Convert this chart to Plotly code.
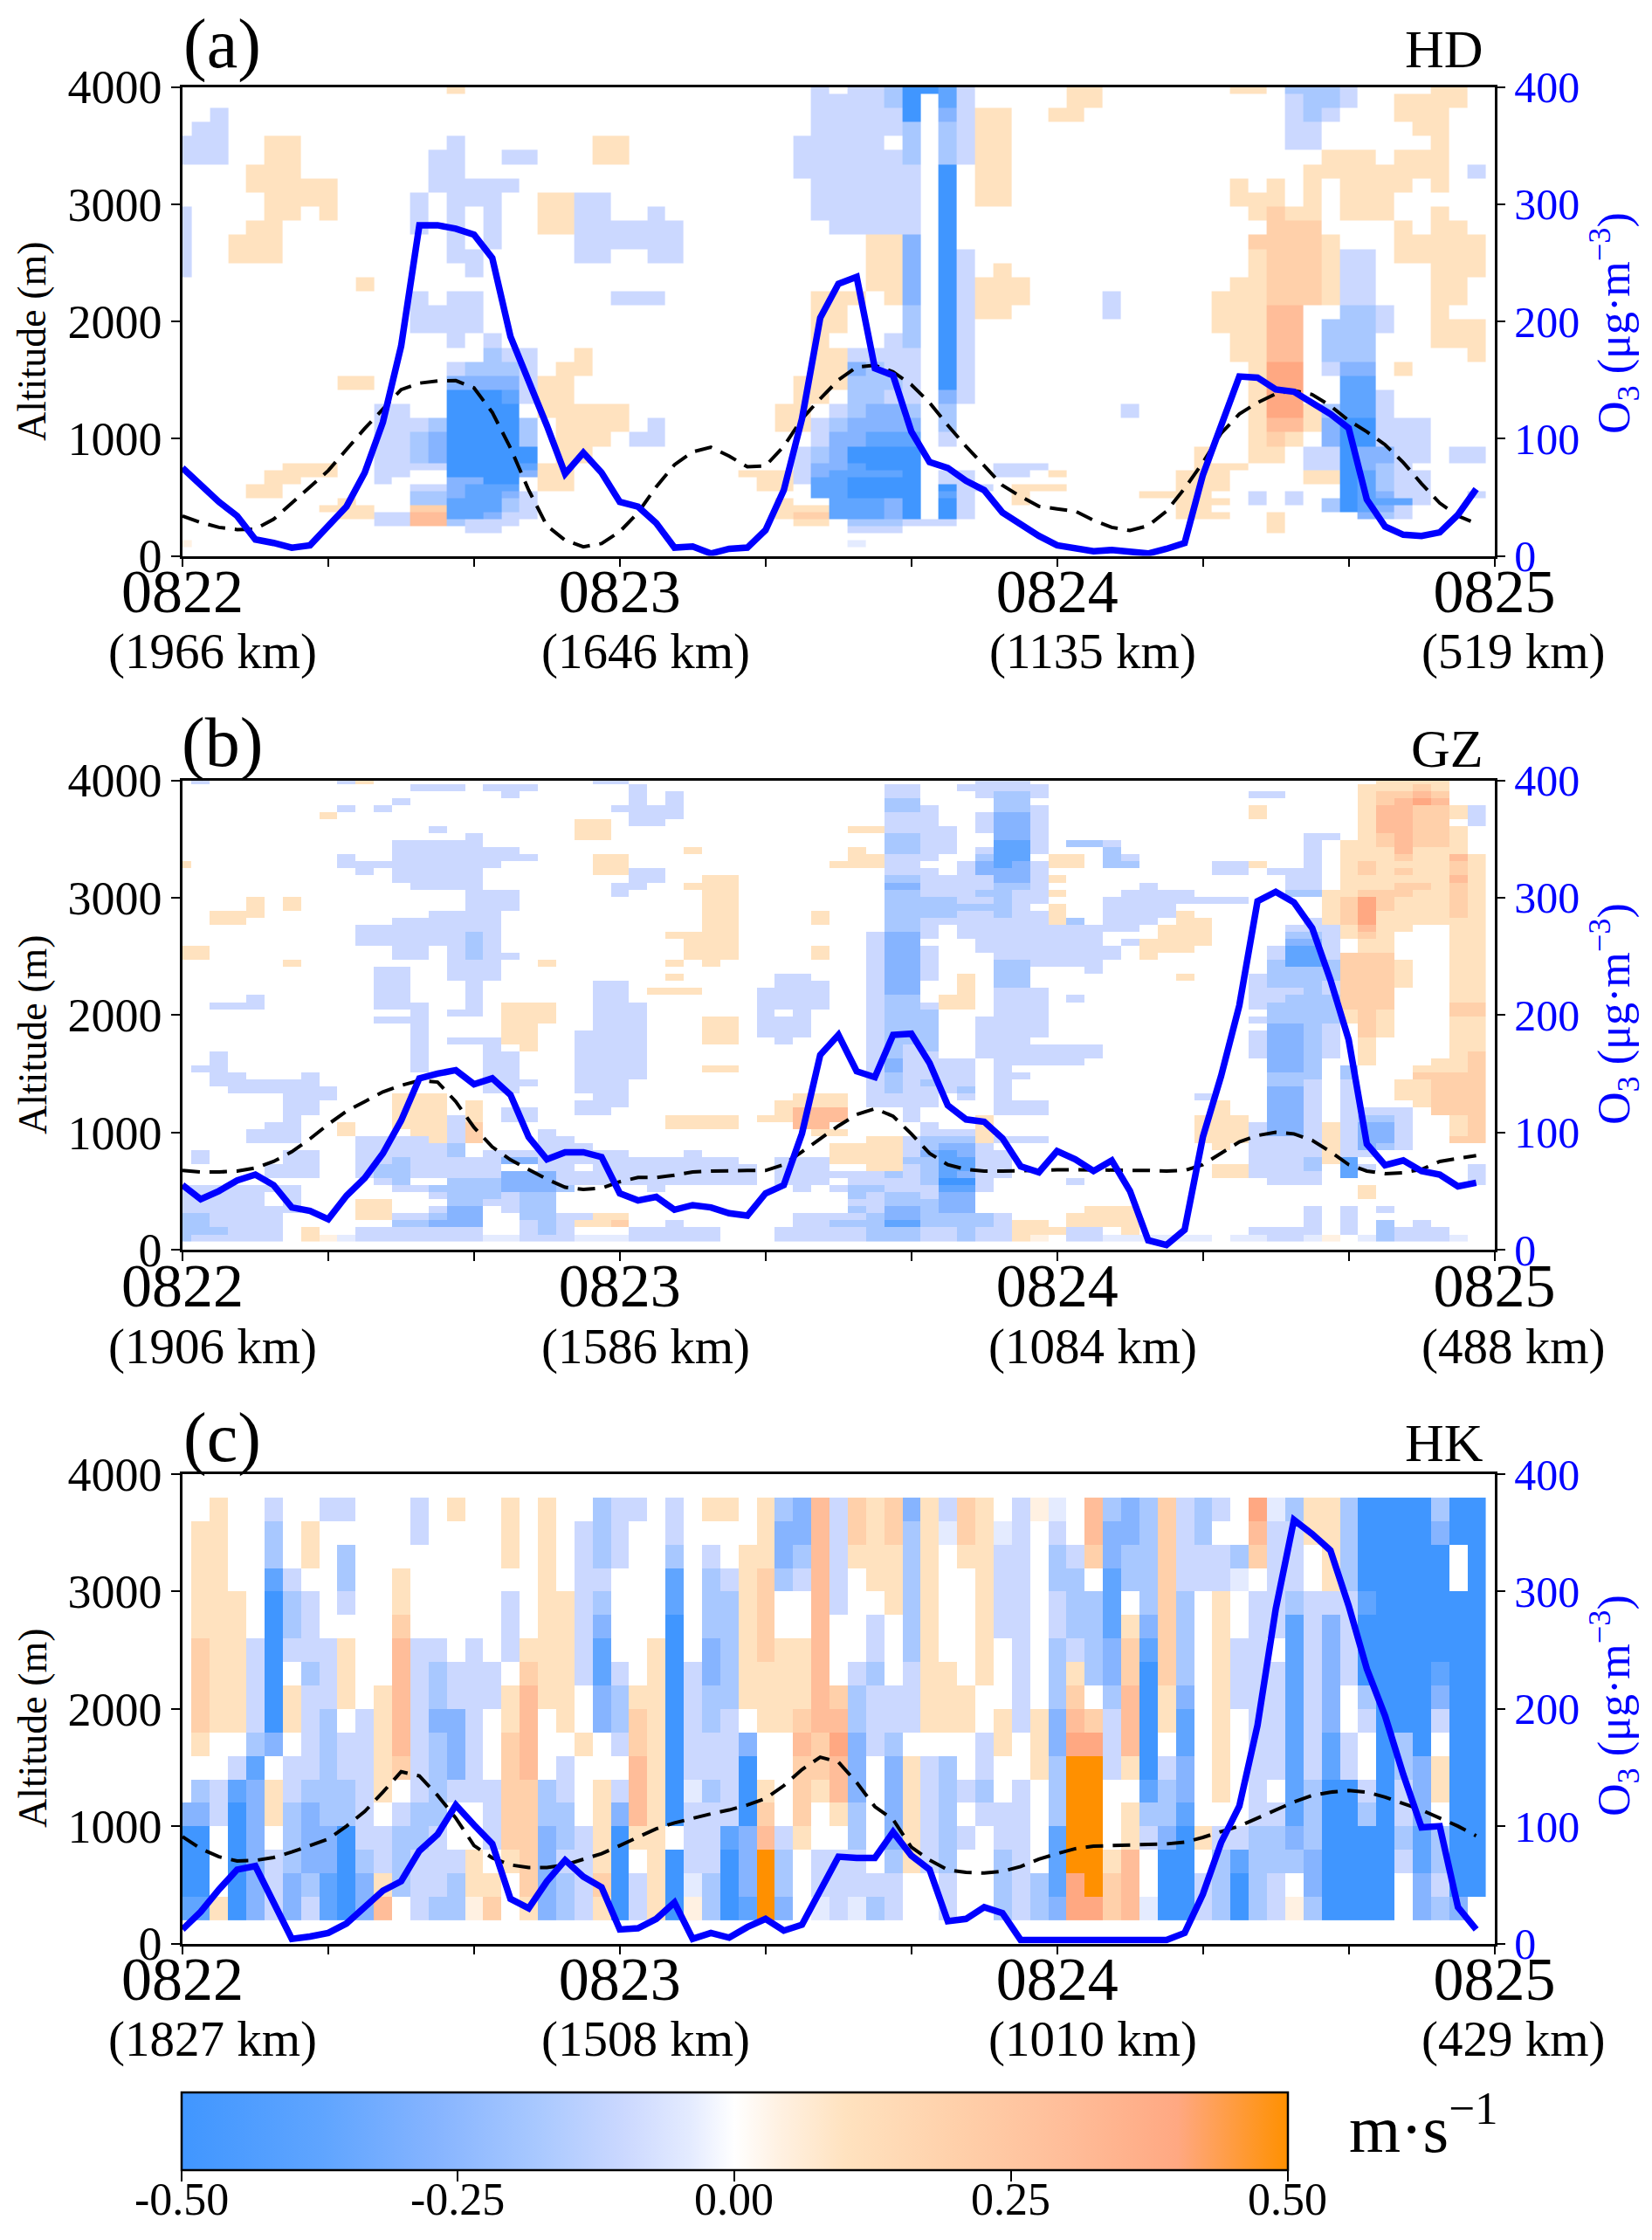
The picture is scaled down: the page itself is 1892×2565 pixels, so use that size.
import re
import plotly.graph_objects as go

FONT = "Liberation Serif"
W, H = 1892, 2565

hours = list(range(72))
day_hours = [0, 24, 48, 72]
day_names = ["0822", "0823", "0824", "0825"]
minor_hours = [8, 16, 32, 40, 56, 64]
km_a = ["(1966 km)", "(1646 km)", "(1135 km)", "(519 km)"]
km_b = ["(1906 km)", "(1586 km)", "(1084 km)", "(488 km)"]
km_c = ["(1827 km)", "(1508 km)", "(1010 km)", "(429 km)"]
bar_ticks = [-0.5, -0.25, 0, 0.25, 0.5]
bar_names = ["-0.50", "-0.25", "0.00", "0.25", "0.50"]

# wind codes: blue a..e, faint f; peach u..y, faint p
wind_levels = {".": 0, "f": -0.04, "a": -0.1, "b": -0.18, "c": -0.27, "d": -0.37, "e": -0.5,
               "p": 0.04, "u": 0.1, "v": 0.2, "w": 0.3, "x": 0.4, "y": 0.5}

o3_a = [75, 60, 46, 34, 14, 11, 7, 9, 26, 42, 71, 114, 179, 282, 282, 279, 274, 254, 187, 150, 111, 70, 88, 71,
        46, 42, 28, 7, 8, 2, 6, 7, 22, 56, 117, 203, 232, 238, 160, 154, 106, 80, 75, 64, 56, 37, 27, 17,
        9, 6, 4, 5, 3, 2, 6, 11, 69, 111, 153, 152, 142, 140, 131, 121, 109, 48, 25, 18, 17, 20, 35, 57]
mlh_a = [340, 285, 243, 224, 229, 312, 450, 589, 727, 907, 1086, 1252, 1418, 1473, 1492, 1495, 1432, 1224, 920, 561, 257, 133, 77, 105,
         207, 368, 589, 777, 887, 926, 851, 760, 768, 934, 1169, 1340, 1500, 1611, 1625, 1570, 1459, 1307, 1114, 934, 768, 602, 506, 423,
         401, 381, 304, 243, 216, 257, 381, 575, 796, 1045, 1210, 1307, 1382, 1410, 1376, 1280, 1155, 1059, 948, 796, 616, 450, 340, 276]
o3_b = [55, 43, 50, 59, 64, 55, 36, 33, 26, 46, 61, 82, 110, 146, 150, 153, 141, 146, 132, 96, 77, 83, 83, 79,
        48, 42, 45, 34, 38, 36, 31, 29, 48, 55, 99, 166, 183, 152, 147, 183, 184, 159, 123, 111, 109, 95, 71, 66,
        84, 77, 67, 76, 50, 8, 4, 17, 96, 148, 208, 297, 305, 296, 274, 230, 179, 90, 72, 76, 67, 64, 54, 57]
mlh_b = [675, 662, 662, 670, 697, 752, 835, 945, 1069, 1180, 1262, 1345, 1400, 1442, 1428, 1262, 1042, 876, 766, 684, 601, 532, 513, 524,
         579, 615, 615, 634, 662, 670, 675, 675, 675, 725, 835, 945, 1055, 1152, 1202, 1138, 987, 821, 725, 684, 670, 670, 675, 678,
         681, 681, 681, 681, 678, 675, 670, 675, 725, 821, 918, 973, 1000, 987, 932, 835, 725, 670, 648, 656, 684, 752, 780, 802]
o3_c = [12, 27, 46, 63, 66, 35, 4, 6, 9, 17, 31, 45, 53, 79, 93, 118, 101, 85, 38, 30, 53, 71, 57, 48,
        12, 13, 21, 35, 4, 9, 5, 14, 21, 11, 16, 45, 74, 73, 73, 95, 75, 63, 19, 21, 31, 26, 3, 3,
        3, 3, 2, 2, 2, 2, 3, 9, 42, 86, 117, 186, 285, 361, 349, 335, 288, 234, 194, 144, 99, 100, 31, 12]
mlh_c = [910, 808, 739, 703, 708, 733, 780, 835, 890, 1000, 1125, 1290, 1464, 1428, 1262, 1069, 835, 730, 670, 648, 648, 670, 717, 766,
         835, 904, 978, 1028, 1069, 1105, 1138, 1180, 1235, 1345, 1483, 1588, 1546, 1373, 1166, 1056, 821, 711, 628, 606, 601, 615, 656, 719,
         766, 808, 830, 835, 841, 843, 849, 863, 904, 954, 1000, 1069, 1138, 1207, 1262, 1290, 1304, 1290, 1248, 1193, 1138, 1069, 1000, 918]

# panel a: rows bottom to top, "first-last code" column runs
alt_a = [72 + 60 * i for i in range(13)] + [934 + 120.3 * i for i in range(26)] + [4000]
wind_a = [
    "0p 37f", "",
    "16-17a 37-39a 60u",
    "11-12a 13-14w 15b 16-18a 34-35u 37-39b 40-42a 60u",
    "9-10u 11-12a 13-14w 15-16d 17c 18-19a 33u 34-35v 36d 37-38d 39c 40e 42e 43a 55-57u 60u 65c 66b 67a",
    "8-10u 13-14v 15-17d 18b 19a 33-35u 36-38d 39c 40e 42e 43a 55-56u 63b 64e 65d 66c 67a",
    "9u 13-14b 15-17d 18b 19a 33u 36d 37-38d 39c 40e 42e 43a 46u 55-57u 59a 61a 63b 64e 65-67d 68a",
    "4-5u 13-14b 15c 16-17d 18c 19a 35-36d 37-40e 42d 43a 46u 53-56u 59a 61a 64e 65d 66c 67-68a 71a",
    "4-5u 13-14a 15c 16-18d 20-21u 32-33u 35-36d 37-40e 42e 43-44a 46-48u 55-57u 64e 65d 66b 67-68a",
    "5-6u 11a 15-16c 17-18e 20-21u 32-33u 34a 35-36d 37-40e 42-43a 55-57u 62-63u 64e 65d 66b 67-68a",
    "5-8u 11-12a 15-18e 19c 20-21u 31-33u 34a 35c 36d 37-39d 40e 42-43a 45-46a 48u 55-57u 62-63u 64e 65d 66b 67-68a",
    "6-8u 11-14a 15-18e 19d 20-21u 34a 35-36c 37d 38-40e 45-47a 56-58u 62-63a 64e 65c 66b 67a",
    "11-12a 13b 14c 15-19e 21-22u 34a 35b 36c 37-40e 56u 59-60u 62-63a 64e 65-66c 67-68a 70-71a",
    "11-12a 13b 14c 15-18e 19b 21-23u 25-26a 35a 36c 37c 38-40d 42a 59u 60v 61u 63c 64-65e 66-68a",
    "11-13a 14b 15-18e 19b 21-24u 26a 33-34u 35a 36b 37-40c 42b 59u 60-61w 62u 63c 64-65e 66-68a",
    "11-12a 15-18e 20-24u 33-34u 36a 37b 38-39c 40b 42b 52a 59u 60-61x 62u 63b 64-65d 66a",
    "15-17e 18d 19a 20-21u 34-35u 37-38b 39-40a 42c 43a 59u 60-61x 64-65d 66a",
    "9-10u 15-18c 19a 20-21u 34-36u 37-39b 40a 42e 43a 59u 60-61x 64-65d",
    "15a 16-18b 19a 21-22u 35-36u 37c 38b 39-40a 42e 43a 59u 60-61x 63a 64-65c 67u",
    "17b 18-19a 22u 35-36u 37-40a 42e 43a 58-59u 60-61w 63-65b 71u",
    "15a 17a 35u 39a 40b 42e 43a 58-59u 60-61w 63-65b 69-71u",
    "13-16a 35-36u 40b 42e 43a 57-59u 60-61w 63-65b 66a 69-71u",
    "13-16a 35-36u 40b 42e 43a 44-45u 51a 57-59u 60-61w 64-65b 66a 69u",
    "13a 15-16a 24-26a 35-37u 39u 40c 42e 43a 44-46u 51a 57-59u 60-62v 63u 64-65a 69-70u",
    "10u 38-39u 40c 42e 43a 44-46u 58-59u 60-62v 63u 64-65a 69-70u",
    "0a 16a 38-39u 40c 42e 43a 45u 59u 60-62v 63u 64-65a 69-71u",
    "0a 3-5u 15-16a 22-23a 26-27a 38-39u 40c 42e 43a 59u 60-62v 63u 64-65a 67-71u",
    "0a 3-5u 15a 17a 22-27a 38-39u 40c 42e 59-62v 63u 67-71u",
    "0a 4-5u 13a 15a 17a 20-21u 22-27a 36-40a 42e 60-62v 67u 69-70u",
    "0a 5-6u 8u 13a 15a 17a 20-21u 22-23a 26a 35-40a 42e 59u 60v 61-62u 64-66u 69u",
    "5-8u 13a 15-17a 20-21u 22-23a 35-40a 42e 44-45u 58-60u 62u 64-66u",
    "4-8u 14-18a 35-40a 42e 44-45u 58u 60u 62u 64-67u 69u",
    "4-6u 14-15a 34-40a 42e 44-45u 62-69u 71a",
    "0-2a 5-6u 14-15a 18-19a 23-24u 34-39a 40b 42b 43a 44-45u 63-65u 67-69u",
    "0-2a 5-6u 15a 23-24u 34-38a 40b 42b 43a 44-45u 61-62a 69u",
    "1-2a 35-39a 40b 42b 43a 44-45u 61-62a 68-69u",
    "2a 35-39a 40e 42c 43a 44-45u 48-49u 61a 62b 63a 67-69u",
    "35-38a 39b 40e 42d 43a 49-50u 61a 62-63b 64a 67-70u",
    "15u 35a 37-38a 39b 40-41e 42d 43a 49-50u 58-59u 61-63b 64a 69-70u",
]

# panel b: rows every 60 m
alt_b = [69 + 60 * i for i in range(67)]
wind_b = [
    "0b 1-5a 7u 8p 9f 10-16a 17-18f 19-21a 22-24f 25-29a 33-37a 38-40b 41-42a 43b 44-45a 46u 47p 49-50a 51-56f 58-59f 60-61a 62f 63p 65f 66b 67-69a 70f",
    "0-2b 3-5a 7u 10-16a 19a 20b 21a 25-29a 33-37a 38-40b 41-42a 43b 44-45a 46-48u 49-50a 52u 59-62a 64a 66b 67-69a",
    "0-1b 2-5a 12-13b 14-16c 19a 20b 21a 22-23u 24v 27a 34-35a 36-38b 39-40d 41-44b 45a 46-47u 49-52u 62a 64a 66b 68a",
    "0-1b 2-5a 10-11u 12-13a 14b 15-16c 19-20b 21-22a 23-24u 34-37a 38b 39-40c 41-44b 45a 49-52u 62a 64a",
    "0-6a 10-11u 14a 15-16c 18a 19-20b 37b 38a 39-40c 41b 42-43c 50-52u 62a 64a 66a",
    "0-4a 6a 10-11u 15-16b 17-18a 19-20b 37-38a 39-41b 42-43c",
    "0-4a 6a 14a 15-17b 18a 19-20b 37b 38a 39-40b 41a 42-43c 65u",
    "0-6a 12-13a 14-17b 18-20c 21b 26a 34a 36a 37-38b 39-41a 42-43d 44a 65u",
    "11a 12b 15-17b 18-20c 21-31a 33-35a 37-40a 41b 42-43e 44a 49a 60-62a 71a",
    "5-7a 10a 11-12b 13-17a 18-20c 21-31a 33-38a 39b 40a 41b 42d 43c 44-45a 57-58u 59-62a 64d 71a",
    "5-7a 10a 11-12b 13-17a 20-21a 23-31a 33-35a 38-39u 40a 41b 42-43d 44-45a 57-58u 59-61a 62b 64d 65a 71a",
    "1a 6-7a 10-11a 12b 13-17a 18-19c 20-30a 33-35a 36-39u 40-41b 42-43d 44-45a 59-61a 62b 63u 64d",
    "1a 6-7a 10-14a 15b 17-24a 28a 36-39u 40a 41c 42d 43c 44-45a 59-62a 63u 64-65a",
    "10-14a 15b 20-22a 36-39u 40a 41b 42-43c 44a 57u 59-62a 63u 64a 65c 66b 67a",
    "4-6a 10-13a 14u 15a 16v 20-21a 38-39u 40a 41-43b 44u 45-47a 56-58u 59-62a 63u 64a 65-66c 67a 70-71v",
    "4-6a 9u 13-14u 15a 16v 20a 35-36u 41-43a 44u 56-58u 59a 60-61c 62a 63u 64a 65-66c 67a 70u 71v",
    "5-6a 9u 12-14u 15a 16v 27-30u 34-35w 41a 44u 56-58u 59a 60-61c 62a 63u 64a 65-66c 67a 70u 71v",
    "6a 12-14u 15a 16u 18-19a 27-30u 32-33u 34-36w 40a 44u 56-58u 60-61c 62a 64a 65-66b 67a 70u 71v",
    "6-7a 12-14u 16u 18-19a 22-23a 33u 34-36w 40a 45-47a 57u 60-61c 62a 64-67a 69-71v",
    "6-7a 12-14u 16u 22-24a 33-36u 38-41a 45-47a 57u 60-61c 62a 64a 68u 69-71v",
    "6-8a 12-14u 23-24a 34-36u 38-41a 43a 45a 56a 60-61c 62a 64a 67-68u 69-71v",
    "3-8a 17-18a 22-24a 38a 39b 40-42a 43b 45a 60-61c 62a 64a 67-68u 69-71v",
    "2-7a 17-19a 22-24a 38a 39b 40a 41b 42-43a 45a 60-61b 62a 64a 67-68u 69-71v",
    "2-3a 7a 17-18a 22-25a 38a 39b 40-43a 45-46a 60-62b 64b 68-71v",
    "1-2a 13a 17-18a 22-25a 29-30u 38a 39c 40-43a 45a 60-61c 62b 64b 68-70u 71v",
    "2a 13a 17-18a 22-25a 38a 39c 40-43a 45-49a 60-61c 62b 65u 69-70u 71v",
    "2a 13a 17-18a 22-25a 38a 39b 40-41a 44-50a 59a 60-61c 62b 63a 65u 70u 71v",
    "13a 17a 19u 22-25a 38a 39b 40a 41b 44-50a 59a 60-61c 62b 63a 65u 70-71u",
    "13a 15-17a 18-19u 22-25a 29-30u 33a 38a 39-41b 44-46a 59a 60-61c 62b 63a 65u 70-71u",
    "13a 18-19u 22-25a 29-30u 32-34a 38a 39-41b 44-47a 59a 60-61c 62b 63a 65v 66u 70-71u",
    "13a 18-19u 23-25a 29-30u 32-34a 38a 39-41b 44-47a 60-61c 62b 63a 65v 66u 70-71u",
    "11-13a 18-20u 23-25a 29-30u 32-34a 38a 39-41b 44-47a 59a 60-63b 64u 65v 66u 70-71u",
    "13a 15-16a 18-20u 23-25a 32a 34a 38a 39-41b 45-47a 60-63b 64u 65v 66u 70-71v",
    "2-4a 11-13a 16a 18-20u 23-25a 32-35a 38a 39-40b 41a 42-43u 45-47a 59a 60-63b 64-66v 70-71v",
    "4a 11-12a 16a 23-24a 32-35a 38a 39-40b 42-43u 45-47a 49a 59-60a 61-63b 64-66v 70-71u",
    "11-12a 16a 23-24a 26-28u 32-35a 38a 39-40c 43u 45-47a 59-61a 62b 63a 64-66v 70-71u",
    "11-12a 16a 23-24a 33-35a 38a 39-40c 43u 45-46b 59a 60-62b 63a 64-66v 67u 70-71u",
    "11-12a 15-17a 27u 33-34a 38a 39-40c 41a 43u 45-46b 55u 59a 60-63b 64-66v 67u 70-71u",
    "11-12a 15-17a 38a 39-40c 41a 45-46b 50a 60-63b 64-66v 67u 70-71u",
    "6u 15-17a 20u 27u 29u 38a 39-40c 41a 45-46b 47-50a 60b 61-62d 63b 64-66v 67u 70-71u",
    "0-1u 12-13a 15a 16b 17-18a 28-30u 35u 38a 39-40c 41a 45-51a 53u 60a 61-62d 63a 64-66v 70-71u",
    "0-1u 12-13a 15a 16b 17a 28-30u 35u 38a 39-40c 41a 44-51a 53-55u 60a 61-62d 63a 65-66u 70-71u",
    "10-15a 16b 17a 28-30u 38a 39-40c 44-50a 52a 53-56u 61-62c 63a 65-66u 70-71u",
    "10-15a 16b 17a 27-30u 38a 39-40c 41a 43-50a 54-56u 61-62b 63a 64u 65v 66u 70-71u",
    "10-17a 29-30u 39-40b 41a 43-52a 54-56u 61-63a 64u 65w 66-67u 70-71u",
    "2-3u 12-17a 29-30u 35u 39-40b 41-47a 48u 49b 51-53a 55-56u 62a 63u 64v 65x 66-71u",
    "2-4u 14-17a 29-30u 35u 39-42b 43-44a 45b 46-47a 48u 51-54a 55u 63u 64v 65x 66-69u 70v 71u",
    "4u 6u 16-18a 29-30u 39-45b 46a 48u 51-54a 63u 64v 65x 66v 67-69u 70v 71u",
    "4u 6u 16-18a 29-30u 39-42b 43-44a 45b 46-47a 51-58a 63u 64v 65x 66v 67-69u 70v 71u",
    "16-18a 24a 29-30u 39-40b 41-43a 44-45b 46-47a 48u 52-55a 61-62b 63-64u 65-67v 68-69u 70v 71u",
    "13-16a 24-25a 28-30u 39-40c 41-44a 45-46b 47a 53a 61-62a 64-66u 67-68v 69u 70v 71u",
    "12-16a 25-26a 29-30u 39-40b 41-44a 45-46c 47a 48u 61-62a 64-69u 70w 71u",
    "10a 12-16a 23-24u 25-26a 39-41a 43a 44-46c 47a 57-58a 60-62a 64u 65v 66u 67v 68-69u 70v 71u",
    "0u 9-17a 23-24u 36-38u 39-40a 43a 44c 45d 46c 47a 48-49u 51-52b 57-58a 59u 62a 64u 65v 66-69u 70v 71u",
    "9a 12-19a 23-24u 37-38u 39-41a 44b 45-46d 48-49u 51b 52a 62a 64-66u 67v 68-69u 70w 71u",
    "12-18a 28u 37u 39-40b 41-42a 44a 45-46d 47a 51b 62a 64-66u 67w 68-70u",
    "12-16a 39-40b 41-42a 45-46d 47a 49-50b 51a 62a 64-65u 66v 67w 68-69v 70u",
    "16a 22-23u 39-40b 41-42a 45-46c 47a 62-63a 65u 66v 67w 68-69v 70u",
    "14a 22-23u 37-38u 39-42a 44a 45-46c 47a 65u 66-67w 68-69v 70u",
    "22-23u 25-26a 39-41a 44a 45-46c 47a 65u 66-67w 68-69v 71a",
    "8u 25-27a 39-41a 44a 45-46c 47a 59u 65u 66-67w 68-69v 70u 71a",
    "9a 11a 24-27a 39-40b 41a 45-46b 47a 59u 65u 66-67w 68-69v 70u 71a",
    "12a 25a 27a 39-40b 45-46b 65u 66v 67w 68x 69w",
    "18a 25a 27a 39-40a 44a 45-46b 47a 59-60a 65u 66-67v 68w 69v",
    "13-15a 17-19a 25a 39-40a 43-47a 65-67u 68v 69u",
    "1a 9a 10u 23-24a 44-46a 66-69u",
]

# panel c: one string per hour, levels from 200 m upward every 200 m
alt_c = [200 + 200 * i for i in range(19)]
wind_c_columns = [
    "deeec", "deeecb.uvvvvuuuuu", "u...aa..uuuuuuuuuu", "eeeeeda.uuuuuu", "ccccccdbaaaa", "aaa.uu.ceeeeeedbba",
    "ccbbbaa.uu.abba", "abcccbaaaabaaa.uu", "ddccbbbbbaaa.....a", "eeeebbaa.uuu.abb.a", "ccbaaaaaa", "wuaa.uuuuu",
    ".bbba.vwwwwwvuu", "aaabbaaaaaaa....aa", "baaabbbbcbba", "bba..acccaa......u", "puu..aaaaaaa", "vu.aaa...aa",
    "..uvvvvvuu.aaa.uuu", "uvvvvvwwwwvu", "ccccbb...uuuuuuuuu", "bbabbaa.uuuuuu", "aaaa...u..aaaaaaa", "uvuuuu..ccddcbabbb",
    "eeeeca.abba....aaa", "aa.uwwwvvu.......a", "uuuuuuuuuuuu", "eee.eeeeeeeeeddbaa", "pfaaafaaaaa", "bbaaabaabbccbbba.u",
    "eeedaaaaabbbbba..u", "dccceeec.uuuuuuu", "yyywvu..uuuvvvvuuu", "cbba....uuuu..bccb", "...uvvvwvuuu..abcc", "faa..uvvwwwwwwwwww",
    "aaa.uwwxwv...aaaaa", "faabbcccbba....uvv", "ba.....aaabaa.uuuu", "aabccccbaa...uuuvv", "..uuuuu.aaabbbbbbc", "..aaaaa.uuuuuuuuuu",
    "aabbbbb.uuu.....fa", "...a.a..uu.....uvv", "....abaa..uuuuuuuu", "bbbaa..uu...aaaaf", "aaaaaa..aaaaaaaaaa", "bb....uuu........p",
    "cdddbbbccbbbaabbaf", "xxyyyyyxwvuabbba", "xyyyyyyxv.bbbb.vww", "vvu...aaabccdddccb", "wwwuu.uwwwvvu.bbcc", "f..abdeeeeedcbbbbb",
    "eeecbba.uuvvvvvvvv", "eeeedccddcbbbbaaaa", "aa.u..........aabb", "bbba.uuuuuuuuuaa.a", "eeda.....aaa..fb", "bbbbaaaaaaaaaa.vwx",
    "aabba.aaaaa.aaaaaf", "p.bcdddddddddbaaab", "bccbbbaaaaaaaa..uu", "eeeeeeddcccccauuuu", "eeeeeeaa..aaaabbbb", "eeeeba..abeeedeeee",
    "eeeeeeeeeeeeeeeeee", "..abaabbeeeeeeeeee", "ccddccceeeeeeeeeee", "babb.uu.acdeeeeecb", "ceeeeeeeeeeeee..ee", ".eeeeeeeeeeeeeeeee",
]

colour_stops = [(-0.5, "#4096FF"), (-0.37, "#60A5FF"), (-0.27, "#86B4FF"), (-0.18, "#A8C8FF"), (-0.1, "#CBD8FF"),
                (-0.04, "#E4EBFF"), (0, "#FFFFFF"), (0.04, "#FFF1E2"), (0.1, "#FFE2BF"), (0.2, "#FFD0AA"),
                (0.3, "#FFBD99"), (0.4, "#FFA882"), (0.5, "#FF9000")]
colorscale = [[v + 0.5, c] for v, c in colour_stops]


def decode_rows(rows):
    z = []
    for row in rows:
        line = [0] * 72
        for first, last, code in re.findall(r"(\d+)(?:-(\d+))?([a-z])", row):
            for col in range(int(first), int(last or first) + 1):
                line[col] = wind_levels[code]
        z.append(line)
    return z


def decode_columns(columns, n_rows):
    padded = [c.ljust(n_rows, ".") for c in columns]
    return [[wind_levels[padded[c][r]] for c in range(72)] for r in range(n_rows)]


x_edges = [h - 0.5 for h in range(73)]

panels = [
    dict(z=decode_rows(wind_a), alt=alt_a, o3=o3_a, mlh=mlh_a, km=km_a, top=99.5, bottom=636.5, tag="(a)", site="HD",
         tag_y=50, tick_y=746, alt_y=391, o3_y=370),
    dict(z=decode_rows(wind_b), alt=alt_b, o3=o3_b, mlh=mlh_b, km=km_b, top=893.5, bottom=1431, tag="(b)", site="GZ",
         tag_y=851, tick_y=1542, alt_y=1185, o3_y=1161),
    dict(z=decode_columns(wind_c_columns, 18), alt=alt_c, o3=o3_c, mlh=mlh_c, km=km_c, top=1688, bottom=2225.5, tag="(c)",
         site="HK", tag_y=1646, tick_y=2335, alt_y=1979, o3_y=1953),
]

LEFT, RIGHT = 209, 1711.5
BAR_LEFT, BAR_RIGHT = 207.5, 1474
fig = go.Figure()
annotations = []
layout = {}
km_x = [244, 739, 1251, 1733]


def px(x):
    return x / W


def py(y):
    return 1 - y / H


for i, p in enumerate(panels):
    n = i + 1
    suffix = "" if n == 1 else str(n)
    right = 3 + n
    fig.add_trace(go.Heatmap(
        x=x_edges, y=p["alt"], z=p["z"], zmin=-0.5, zmax=0.5, colorscale=colorscale, zsmooth=False,
        xaxis=f"x{suffix}", yaxis=f"y{suffix}", hoverinfo="skip", showscale=(n == 1),
        colorbar=dict(orientation="h", x=BAR_LEFT / W, xanchor="left", y=py(2396), yanchor="top",
                      len=(BAR_RIGHT - BAR_LEFT) / W, lenmode="fraction", thickness=89, thicknessmode="pixels", xpad=0,
                      ypad=0, outlinecolor="black", outlinewidth=2.5, ticks="outside", ticklen=12, tickwidth=1.5,
                      tickcolor="black", tickvals=bar_ticks, showticklabels=False),
    ))
    fig.add_trace(go.Scatter(x=hours, y=p["mlh"], mode="lines", xaxis=f"x{suffix}", yaxis=f"y{suffix}",
                             line=dict(color="black", width=4, dash="20px,11px"), hoverinfo="skip", showlegend=False))
    fig.add_trace(go.Scatter(x=hours, y=p["o3"], mode="lines", xaxis=f"x{suffix}", yaxis=f"y{right}",
                             line=dict(color="#0000FF", width=7.5), hoverinfo="skip", showlegend=False))
    dom = [py(p["bottom"]), py(p["top"])]
    layout[f"xaxis{suffix}"] = dict(domain=[px(LEFT), px(RIGHT)], range=[0, 72], anchor=f"y{suffix}", tickmode="array",
                                    tickvals=day_hours, ticktext=day_names, ticks="outside", ticklen=10, tickwidth=2,
                                    tickcolor="black", showline=True, linecolor="black", linewidth=2.5, mirror=True,
                                    minor=dict(tickmode="array", tickvals=minor_hours, ticks="outside", ticklen=10,
                                               tickwidth=2, tickcolor="black", showgrid=False),
                                    showgrid=False, zeroline=False, tickangle=0, ticklabelstandoff=-32,
                                    tickfont=dict(family=FONT, size=70, color="black"))
    layout[f"yaxis{suffix}"] = dict(domain=dom, range=[0, 4000], anchor=f"x{suffix}", tickmode="array",
                                    tickvals=[0, 1000, 2000, 3000, 4000], ticks="outside", ticklen=10, tickwidth=2,
                                    tickcolor="black", showline=True, linecolor="black", linewidth=2.5, showgrid=False,
                                    zeroline=False, tickfont=dict(family=FONT, size=54, color="black"))
    layout[f"yaxis{right}"] = dict(domain=dom, range=[0, 400], anchor=f"x{suffix}", overlaying=f"y{suffix}", side="right",
                                   tickmode="array", tickvals=[0, 100, 200, 300, 400], ticks="outside", ticklen=10,
                                   tickwidth=2, tickcolor="black", showline=True, linecolor="black", linewidth=2.5,
                                   showgrid=False, zeroline=False,
                                   tickfont=dict(family=FONT, size=50, color="#0000FF"))
    annotations += [
        dict(text="Altitude (m)", x=px(37), y=py(p["alt_y"]), textangle=-90, font=dict(family=FONT, size=46, color="black")),
        dict(text="O<sub>3</sub> (μg·m<sup>−3</sup>)", x=px(1848), y=py(p["o3_y"]), textangle=-90,
             font=dict(family=FONT, size=52, color="#0000FF")),
        dict(text=p["tag"], x=px(254), y=py(p["tag_y"]), font=dict(family=FONT, size=80, color="black")),
        dict(text=p["site"], x=px(1701), y=py(p["tag_y"] + 6), xanchor="right",
             font=dict(family=FONT, size=62, color="black")),
    ]
    for text, kx in zip(p["km"], km_x):
        annotations.append(dict(text=text, x=px(kx), y=py(p["tick_y"]),
                                font=dict(family=FONT, size=57, color="black")))

for value, text in zip(bar_ticks, bar_names):
    bar_x = BAR_LEFT + (value + 0.5) * (BAR_RIGHT - BAR_LEFT)
    annotations.append(dict(text=text, x=px(bar_x), y=py(2518), font=dict(family=FONT, size=52, color="black")))
annotations.append(dict(text="m·s<sup>−1</sup>", x=px(1630), y=py(2432),
                        font=dict(family=FONT, size=76, color="black")))
for a in annotations:
    a.update(xref="paper", yref="paper", showarrow=False, xanchor=a.get("xanchor", "center"), yanchor="middle")

fig.update_layout(width=W, height=H, margin=dict(l=0, r=0, t=0, b=0, autoexpand=False), plot_bgcolor="white",
                  paper_bgcolor="white", showlegend=False, annotations=annotations, **layout)
fig.write_html("out.html", config={"displayModeBar": False}, post_script="document.body.style.margin='0';")
